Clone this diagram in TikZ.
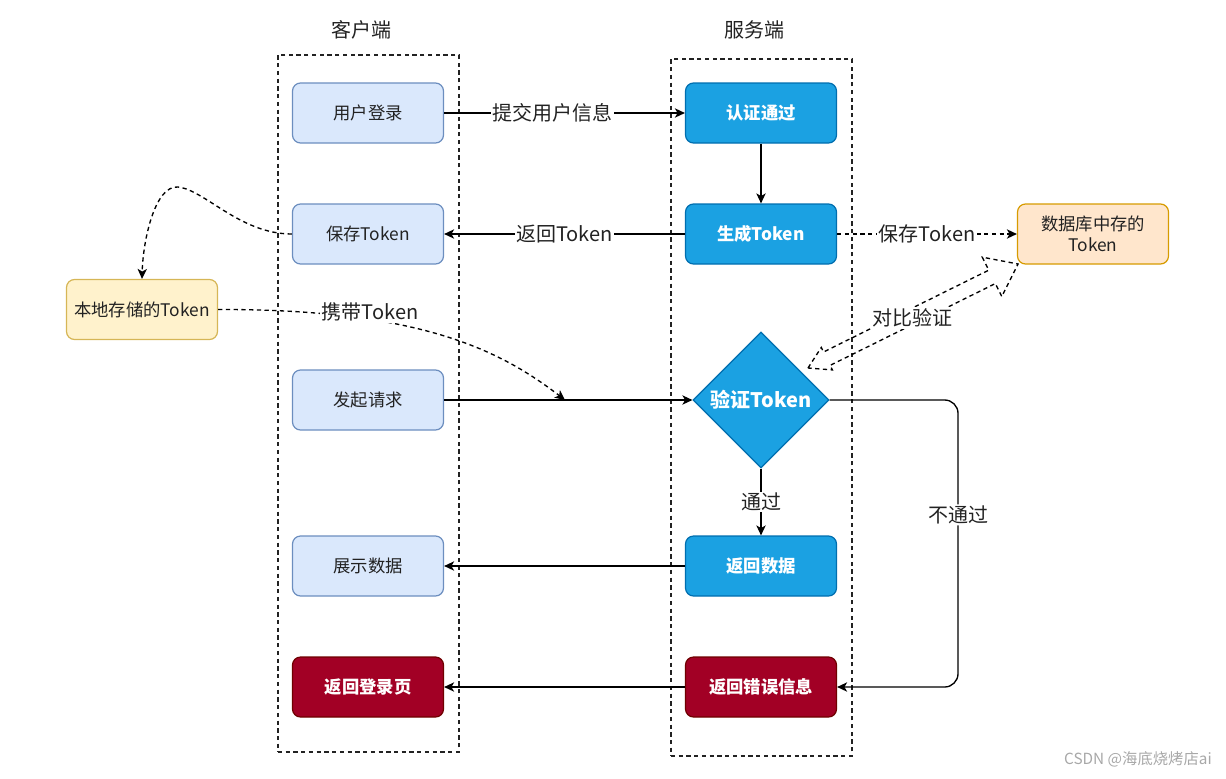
\documentclass[tikz,border=0pt]{standalone}
\usepackage{fontspec}
\setmainfont{Noto Sans CJK SC}
\usetikzlibrary{shapes.geometric,arrows.meta,calc}
\definecolor{lbfill}{HTML}{DAE8FC}
\definecolor{lbdraw}{HTML}{6C8EBF}
\definecolor{bfill}{HTML}{1BA1E2}
\definecolor{bdraw}{HTML}{006EAF}
\definecolor{rfill}{HTML}{A20025}
\definecolor{rdraw}{HTML}{6F0000}
\definecolor{yfill}{HTML}{FFF2CC}
\definecolor{ydraw}{HTML}{D6B656}
\definecolor{ofill}{HTML}{FFE6CC}
\definecolor{odraw}{HTML}{D79B00}
\definecolor{txt}{HTML}{222222}
\definecolor{wm}{HTML}{A8A8A8}
\begin{document}
\begin{tikzpicture}[x=0.75pt,y=-0.75pt,
  basebox/.style={rectangle, rounded corners=6pt, line width=0.9pt,
    minimum width=113.25pt, minimum height=45pt, inner sep=0pt, align=center,
    font=\fontsize{13}{16}\selectfont},
  clientbox/.style={basebox, draw=lbdraw, fill=lbfill, text=txt},
  serverbox/.style={basebox, draw=bdraw, fill=bfill, text=white, font=\fontsize{13}{16}\selectfont\bfseries},
  redbox/.style={basebox, draw=rdraw, fill=rfill, text=white, font=\fontsize{13}{16}\selectfont\bfseries},
  yellowbox/.style={basebox, draw=ydraw, fill=yfill, text=txt},
  orangebox/.style={basebox, draw=odraw, fill=ofill, text=txt},
  diam/.style={diamond, aspect=1, draw=bdraw, fill=bfill, text=white, line width=0.9pt,
    minimum width=102pt, minimum height=102pt, inner sep=0pt,
    font=\fontsize{15}{18}\selectfont\bfseries},
  dsh/.style={dash pattern=on 3.2pt off 2.6pt},
  groupbox/.style={draw=txt, dsh, line width=1pt, minimum width=135.75pt, minimum height=522.75pt, inner sep=0pt},
  titlelabel/.style={font=\fontsize{15}{18}\selectfont, text=txt},
  edgelabel/.style={fill=white, inner sep=1pt, text=txt, font=\fontsize{15}{18}\selectfont},
  arr/.style={-{Stealth[length=7.5pt,width=7pt,inset=2pt]}, line width=1pt, draw=black}
]
\useasboundingbox (0,0) rectangle (1226,778);

% group boxes and titles
\node[groupbox] (client) at (368.5,403.5) {};
\node[groupbox] (server) at (761.5,407.5) {};
\node[titlelabel] (clienttitle) at (361,30) {客户端};
\node[titlelabel] (servertitle) at (754,30) {服务端};

% client nodes
\node[clientbox] (login) at (368,113) {用户登录};
\node[clientbox] (save) at (368,234) {保存Token};
\node[clientbox] (req) at (368,400) {发起请求};
\node[clientbox] (show) at (368,566) {展示数据};
\node[redbox] (back) at (368,687) {返回登录页};

% server nodes
\node[serverbox] (auth) at (761,113) {认证通过};
\node[serverbox] (gen) at (761,234) {生成Token};
\node[diam] (ver) at (761,400) {验证Token};
\node[serverbox] (data) at (761,566) {返回数据};
\node[redbox] (err) at (761,687) {返回错误信息};

% storage nodes
\node[yellowbox] (local) at (142,309.5) {本地存储的Token};
\node[orangebox] (db) at (1093,234) {数据库中存的\\Token};

% connectors
\draw[arr] (login) -- node[edgelabel, pos=0.45] {提交用户信息} (auth);
\draw[arr] (auth) -- (gen);
\draw[arr] (gen) -- node[edgelabel] {返回Token} (save);
\draw[arr, dsh] (gen) -- node[edgelabel] {保存Token} (db);
\draw[arr, dsh] (save.west) .. controls (240,234) and (205,190) .. (178,187)
      .. controls (155,185) and (143,240) .. (local.north);
\coordinate (hit) at (565,400);
\draw[arr, dsh] (local.east) .. controls (420,309) and (500,350) .. (hit);
\node[edgelabel] (carry) at (370,312) {携带Token};
\draw[arr] (req) -- (ver);
\draw[arr] (ver) -- node[edgelabel] {通过} (data);
\coordinate (c1) at (958,400);
\coordinate (c2) at (958,687);
\draw[arr, rounded corners=10pt] (ver.east) -- (c1) -- node[edgelabel, pos=0.4] {不通过} (c2) -- (err.east);
\draw[arr] (data) -- (show);
\draw[arr] (err) -- (back);

% double flex arrow (compare)
\coordinate (A) at (808,368);
\coordinate (B) at (1018,264);
\coordinate (a1) at ($(A)!15.75pt!(B)$);
\coordinate (b1) at ($(B)!21.75pt!(A)$);
\draw[dsh, line width=1pt, draw=black, line join=miter]
  (A) -- ($(a1)!9.4pt!90:(B)$) -- ($(a1)!5.6pt!90:(B)$)
  -- ($(b1)!5.6pt!-90:(A)$) -- ($(b1)!16.5pt!-90:(A)$) -- (B)
  -- ($(b1)!16.5pt!90:(A)$) -- ($(b1)!5.6pt!90:(A)$)
  -- ($(a1)!5.6pt!-90:(B)$) -- ($(a1)!9.4pt!-90:(B)$) -- cycle;
\node[edgelabel] (cmp) at (912,318) {对比验证};

% watermark
\node[text=wm, font=\fontsize{11.5}{14}\selectfont, anchor=east, inner sep=0pt] (mark) at (1212,759) {CSDN @海底烧烤店ai};
\end{tikzpicture}
\end{document}
